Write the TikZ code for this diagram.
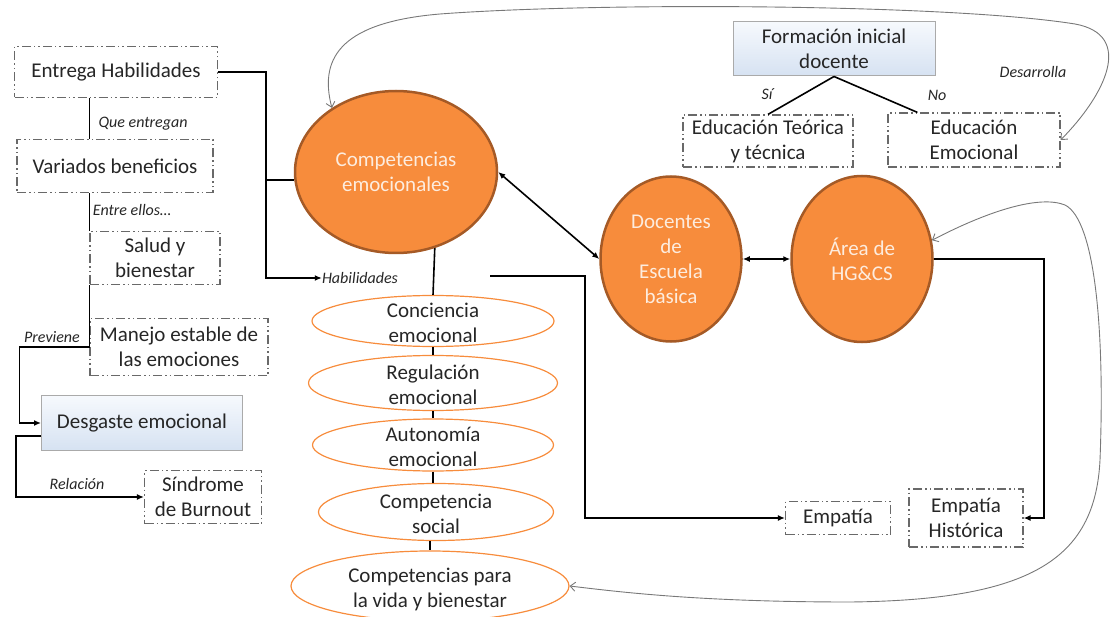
\documentclass[tikz,border=0pt]{standalone}
\usepackage{fontspec}
\setmainfont{Carlito}
\usetikzlibrary{shapes.geometric,arrows.meta}

\definecolor{naranja}{RGB}{247,140,60}
\definecolor{cafe}{RGB}{165,90,38}
\definecolor{crema}{RGB}{253,236,222}
\definecolor{texto}{RGB}{38,38,38}
\definecolor{borde}{RGB}{105,105,105}
\definecolor{grisclaro}{RGB}{170,170,170}
\definecolor{celesteA}{RGB}{246,249,253}
\definecolor{celesteB}{RGB}{214,226,242}
\definecolor{grisfino}{RGB}{120,120,120}

\newcommand{\centrado}[1]{\smash{\raisebox{-0.45em}{\begin{tabular}{@{}c@{}}#1\end{tabular}}}}

\tikzset{
	caja/.style={draw=borde, line width=1.2pt, dash pattern=on 9pt off 3pt on 1.5pt off 3pt on 1.5pt off 3pt, align=center, inner sep=0pt, text=texto, font=\fontsize{21}{25}\selectfont},
	azul/.style={draw=grisclaro, line width=1pt, top color=celesteA, bottom color=celesteB, align=center, inner sep=0pt, text=texto, font=\fontsize{21}{25}\selectfont},
	bola/.style={shape=ellipse, fill=naranja, draw=cafe, line width=2.5pt, text=crema, align=center, inner sep=0pt, font=\fontsize{21}{25}\selectfont},
	anillo/.style={shape=ellipse, draw=naranja, line width=1.2pt, inner sep=0pt, text=texto, font=\fontsize{21}{25}\selectfont},
	nota/.style={inner sep=0pt, text=texto, font=\fontsize{16}{19}\selectfont\itshape},
	linea/.style={draw=black, line width=1.6pt},
	flecha/.style={linea, -{Latex[length=7pt,width=6pt]}},
	doble/.style={linea, {Latex[length=7pt,width=6pt]}-{Latex[length=7pt,width=6pt]}},
	curva/.style={draw=grisfino, line width=0.9pt, {Straight Barb[length=5pt,width=9pt]}-{Straight Barb[length=5pt,width=9pt]}}
}

\begin{document}
\begin{tikzpicture}[x=1pt, y=-1pt]
	\useasboundingbox (0, 0) rectangle (1115, 617);
	
	% columna izquierda
	\node[caja, minimum width=203pt, minimum height=51pt] (entrega) at (116, 72) {Entrega Habilidades};
	\node[caja, minimum width=196pt, minimum height=53pt] (variados) at (115, 166) {Variados beneficios};
	\node[caja, minimum width=130pt, minimum height=53pt] (salud) at (155, 258) {Salud y\\bienestar};
	\node[caja, minimum width=178pt, minimum height=57pt] (manejo) at (179, 347) {Manejo estable de\\las emociones};
	\node[azul, minimum width=201pt, minimum height=55pt] (desgaste) at (142, 423) {Desgaste emocional};
	\node[caja, minimum width=117pt, minimum height=53pt] (sindrome) at (203, 497) {Síndrome\\de Burnout};
	
	\node[nota] (queentregan) at (143, 124) {Que entregan};
	\node[nota] (entreellos) at (132, 210) {Entre ellos…};
	\node[nota] (previene) at (52, 337) {Previene};
	\node[nota] (relacion) at (77, 484) {Relación};
	\node[nota] (habil) at (360, 278) {Habilidades};
	
	% centro
	\node[bola, minimum width=202pt, minimum height=162pt] (comp) at (396, 172) {Competencias\\emocionales};
	\node[bola, minimum width=141pt, minimum height=165pt] (docentes) at (671, 259) {Docentes\\de\\Escuela\\básica};
	\node[bola, minimum width=141pt, minimum height=166pt] (area) at (862, 259) {Área de\\HG\&CS};
	
	\node[anillo, minimum width=242pt, minimum height=51pt] (conc) at (433, 321) {\centrado{Conciencia\\emocional}};
	\node[anillo, minimum width=249pt, minimum height=55pt] (regu) at (433, 383) {\centrado{Regulación\\emocional}};
	\node[anillo, minimum width=241pt, minimum height=52pt] (auto) at (433, 445) {\centrado{Autonomía\\emocional}};
	\node[anillo, minimum width=235pt, minimum height=57pt] (soc) at (436, 512) {\centrado{Competencia\\social}};
	\node[anillo, minimum width=278pt, minimum height=70pt] (vida) at (430, 586) {\centrado{Competencias para\\la vida y bienestar}};
	
	% derecha
	\node[azul, minimum width=202pt, minimum height=54pt] (formacion) at (834, 49) {Formación inicial\\docente};
	\node[caja, minimum width=170pt, minimum height=52pt] (teorica) at (768, 141) {Educación Teórica\\y técnica};
	\node[caja, minimum width=172pt, minimum height=54pt] (emocional) at (974, 140) {Educación\\Emocional};
	\node[caja, minimum width=105pt, minimum height=33pt] (empatia) at (838, 518) {Empatía};
	\node[caja, minimum width=114pt, minimum height=58pt] (historica) at (966, 518) {Empatía\\Histórica};
	
	\node[nota] (si) at (767, 94) {Sí};
	\node[nota] (no) at (937, 95) {No};
	\node[nota] (desarrolla) at (1033, 72) {Desarrolla};
	
	\coordinate (codo) at (266, 278);
	\coordinate (rama) at (266, 180);
	\coordinate (salida) at (490, 276);
	
	\draw[flecha] (entrega.east) -| (codo) -- (habil.west);
	\draw[linea] (rama) -- (comp.west |- rama);
	\draw[linea] (comp.-63) -- (conc.north);
	\draw[linea] (conc.south) -- (regu.north);
	\draw[linea] (regu.south) -- (auto.north);
	\draw[linea] (auto.south) -- (soc.north -| auto.south);
	\draw[linea] (soc.south -| vida.north) -- (vida.north);
	
	\draw[linea] (entrega.south -| salud.west) -- (variados.north -| salud.west);
	\draw[linea] (variados.south -| salud.west) -- (salud.north west);
	\draw[flecha] (salud.south west) -- (manejo.west) -- ++(-70, 0) |- (desgaste.west);
	\draw[flecha] ([yshift=-13pt]desgaste.west) -- ++(-25, 0) |- (sindrome.west);
	
	\draw[doble] (comp.east) -- (docentes.west);
	\draw[doble] (docentes.east) -- (area.west);
	\draw[flecha] (salida) -- ++(95, 0) |- (empatia.west);
	\draw[flecha] (area.east) -- ++(110, 0) |- (historica.east);
	
	\draw[linea] (formacion.south) -- (teorica.north);
	\draw[linea] (formacion.south) -- ([xshift=30pt]emocional.north west);
	
	\draw[curva] (comp.135) .. controls (318, 55) and (345, 22) .. (440, 14)
		.. controls (600, 2) and (950, 4) .. (1075, 24)
		.. controls (1135, 35) and (1105, 95) .. (emocional.east);
	\draw[curva] (area.15) .. controls (990, 210) and (1040, 195) .. (1065, 205)
		.. controls (1095, 220) and (1105, 330) .. (1100, 460)
		.. controls (1095, 560) and (1030, 600) .. (850, 602)
		.. controls (700, 602) and (620, 592) .. (vida.east);

\end{tikzpicture}
\end{document}
